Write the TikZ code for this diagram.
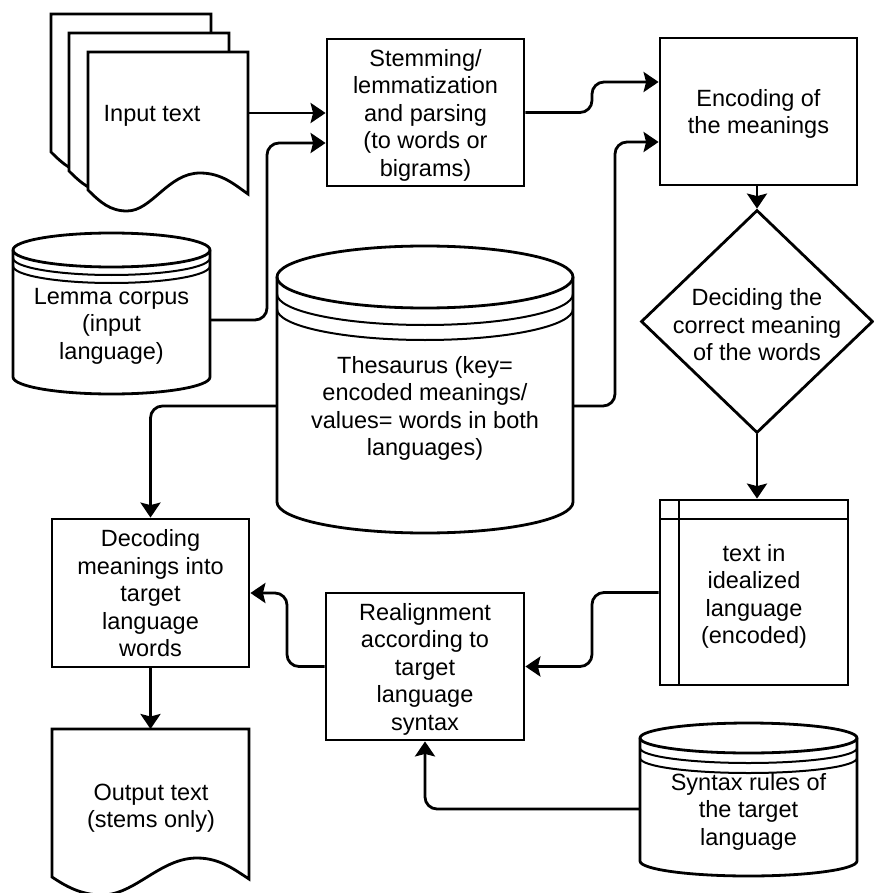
\documentclass[tikz,border=0pt]{standalone}
\usepackage{fontspec}
\setmainfont{Liberation Sans}
\usetikzlibrary{shapes.geometric,arrows.meta}
\newcommand\dtxt{\fontsize{23.5}{27.5}\selectfont}
\begin{document}
\begin{tikzpicture}[x=1pt,y=-1pt,
  lw/.style={line width=2.8pt},
  thinln/.style={line width=2pt},
  box/.style={draw, lw, rectangle, inner sep=0pt, align=center, font=\dtxt, text depth=0pt},
  txt/.style={align=center, inner sep=0pt, font=\dtxt, text depth=0pt},
  arr/.style={line width=2.8pt, -{Stealth[length=15pt,width=20pt,inset=2.5pt]}, rounded corners=12pt},
  docshape/.style={lw, fill=white, line join=miter}]
\useasboundingbox (0,0) rectangle (873,893);

% ---- multi-document (input text)
\foreach \dx/\dy in {-37/-38, -19/-19, 0/0}{
  \begin{scope}[shift={(\dx,\dy)}]
  \filldraw[docshape] (88,190) -- (88,52) -- (248,52) -- (248,194)
     .. controls (235,185) and (222,173) .. (200,173)
     .. controls (168,173) and (152,211) .. (127,211)
     .. controls (110,211) and (100,202) .. (88,190) -- cycle;
  \end{scope}
}
\node[txt] (inp) at (152,113) {Input text};
\coordinate (inE) at (248,113);

% ---- output document
\filldraw[docshape] (52,877) -- (52,729) -- (249,729) -- (249,879)
   .. controls (235,870) and (220,858) .. (197,858)
   .. controls (160,858) and (135,895) .. (102,895)
   .. controls (80,895) and (64,885) .. (52,877) -- cycle;
\node[txt] (out) at (151,806) {Output text\\(stems only)};
\coordinate (outN) at (150.5,729);

% ---- cylinders
% Lemma corpus
\filldraw[lw, fill=white] (13,250) -- (13,377) arc[start angle=180,end angle=360,x radius=98.5pt,y radius=17pt] -- (210,250) arc[start angle=0,end angle=180,x radius=98.5pt,y radius=17pt] -- cycle;
\draw[lw] (13,250) arc[start angle=180,end angle=360,x radius=98.5pt,y radius=17pt];
\draw[thinln] (13,258) arc[start angle=180,end angle=360,x radius=98.5pt,y radius=17pt];
\draw[thinln] (13,266) arc[start angle=180,end angle=360,x radius=98.5pt,y radius=17pt];
\node[txt, minimum width=197pt] (lem) at (111.5,323.5) {Lemma corpus\\(input\\language)};
\coordinate (lemE) at (210,320);

% Thesaurus
\filldraw[lw, fill=white] (277,277) -- (277,502) arc[start angle=180,end angle=360,x radius=148pt,y radius=31pt] -- (573,277) arc[start angle=0,end angle=180,x radius=148pt,y radius=31pt] -- cycle;
\draw[lw] (277,277) arc[start angle=180,end angle=360,x radius=148pt,y radius=31pt];
\draw[thinln] (277,294) arc[start angle=180,end angle=360,x radius=148pt,y radius=31pt];
\draw[thinln] (277,309) arc[start angle=180,end angle=360,x radius=148pt,y radius=31pt];
\node[txt, minimum width=296pt] (thes) at (425,406) {Thesaurus (key=\\encoded meanings/\\values= words in both\\languages)};

% Syntax rules
\filldraw[lw, fill=white] (640,738) -- (640,861) arc[start angle=180,end angle=360,x radius=108.5pt,y radius=15pt] -- (857,738) arc[start angle=0,end angle=180,x radius=108.5pt,y radius=15pt] -- cycle;
\draw[lw] (640,738) arc[start angle=180,end angle=360,x radius=108.5pt,y radius=15pt];
\draw[thinln] (640,748) arc[start angle=180,end angle=360,x radius=108.5pt,y radius=15pt];
\draw[thinln] (640,758) arc[start angle=180,end angle=360,x radius=108.5pt,y radius=15pt];
\node[txt, minimum width=217pt] (syn) at (748.5,809) {Syntax rules of\\the target\\language};

% ---- process boxes
\node[box, minimum width=197pt, minimum height=147pt] (stem) at (425.5,112.5)
  {Stemming/\\lemmatization\\and parsing\\(to words or\\bigrams)};
\node[box, minimum width=197pt, minimum height=147pt] (enc) at (758.5,111.5)
  {Encoding of\\the meanings};
\node[box, minimum width=197pt, minimum height=148pt] (dec) at (150.5,593)
  {Decoding\\meanings into\\target\\language\\words};
\node[box, minimum width=198pt, minimum height=147pt] (real) at (425,666.5)
  {Realignment\\according to\\target\\language\\syntax};

% decision
\node[draw, lw, diamond, minimum width=232pt, minimum height=223pt, inner sep=0pt] (dia) at (757,321.5) {};
\node[txt] (diat) at (757,324.5) {Deciding the\\correct meaning\\of the words};

% internal storage
\node[box, minimum width=188pt, minimum height=185pt] (tb) at (754,592.5) {};
\draw[lw] (679,500) -- (679,685);
\draw[lw] (660,519) -- (848,519);
\node[txt] (tbt) at (754,594) {text in\\idealized\\language\\(encoded)};

% ---- connectors
\draw[arr] (inE) -- (stem.west |- inE);
\draw[arr] (lemE) -- (267,320) -- (267,143) -- (stem.west |- 0,143);
\draw[arr] (stem.east) -- (592,112.5) -- (592,82) -- (enc.west |- 0,82);
\draw[arr] (thes.east) -- (615,406) -- (615,142) -- (enc.west |- 0,142);
\draw[arr] (thes.west) -- (150.5,406) -- (dec.north);
\draw[arr] (enc.south -| dia.north) -- (dia.north);
\draw[arr] (dia.south) -- (dia.south |- tb.north);
\draw[arr] (tb.west) -- (592,592.5) -- (592,666.5) -- (real.east);
\draw[arr] (real.west) -- (287,666.5) -- (287,593) -- (dec.east);
\draw[arr] (dec.south) -- (outN);
\draw[arr] (syn.west) -- (425,809) -- (real.south);
\end{tikzpicture}
\end{document}
